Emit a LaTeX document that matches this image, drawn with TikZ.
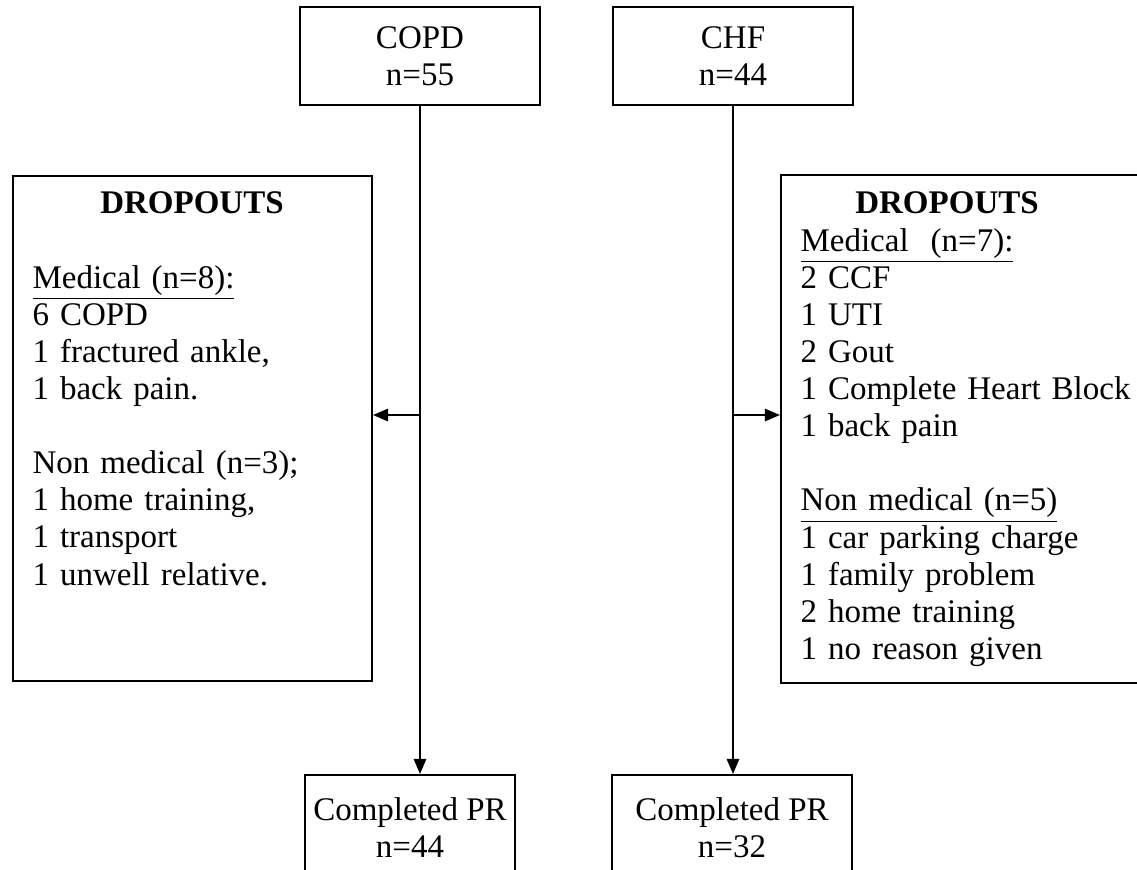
\documentclass[tikz,border=0pt]{standalone}
\usepackage{fontspec}
\setmainfont{Liberation Serif}
\usetikzlibrary{positioning, arrows.meta}
\tikzset{
	arrow/.style={line width=0.7pt, -{Triangle[length=5.5pt, width=4.5pt]}},
	box/.style={draw, line width=0.7pt, inner sep=0pt, align=center},
	list/.style={anchor=base west, inner sep=0pt, text width=125pt, align=left},
}

\begin{document}
\begin{tikzpicture}[x=0.3636pt, y=-0.3636pt, font=\fontsize{12}{13.5}\selectfont]
			\useasboundingbox (0,0) rectangle (1137,869);

			\node[box, minimum width=87.3pt, minimum height=35.6pt] (copd) at (420,56) {COPD\\n=55};
			\node[box, minimum width=87.3pt, minimum height=35.6pt] (chf)  at (733,56) {CHF\\n=44};

			\node[box, minimum width=130.5pt, minimum height=183.6pt] (dl) at (192.5,428.5) {};
			\node[box, minimum width=132.4pt, minimum height=184.7pt] (dr) at (963,429) {};

			\node[box, minimum width=76.4pt, minimum height=38.2pt] (pl) at (410,827.5) {Completed PR\\n=44};
			\node[box, minimum width=87.3pt, minimum height=38.2pt] (pr) at (732,827.5) {Completed PR\\n=32};

			\node (tl) at (192,203) {\textbf{DROPOUTS}};
			\node (tr) at (947,203) {\textbf{DROPOUTS}};

			\node[list] (ml) at (32,288) {\underline{Medical (n=8):}\\ 6 COPD\\ 1 fractured ankle,\\ 1 back pain.\\[13.5pt]
				Non medical (n=3);\\ 1 home training,\\ 1 transport\\ 1 unwell relative.};
			\node[list] (mr) at (800,251) {\underline{Medical\ \ (n=7):}\\ 2 CCF\\ 1 UTI\\ 2 Gout\\ 1 Complete Heart Block\\ 1 back pain\\[13.5pt]
				\underline{Non medical (n=5)}\\ 1 car parking charge\\ 1 family problem\\ 2 home training\\ 1 no reason given};

			\coordinate (jl) at (420,415);
			\coordinate (jr) at (733,415);

			\draw[arrow] (copd.south) -- (copd.south |- pl.north);
			\draw[arrow] (chf.south) -- (chf.south |- pr.north);
			\draw[arrow] (jl) -- (jl -| dl.east);
			\draw[arrow] (jr) -- (jr -| dr.west);
		\end{tikzpicture}
\end{document}
